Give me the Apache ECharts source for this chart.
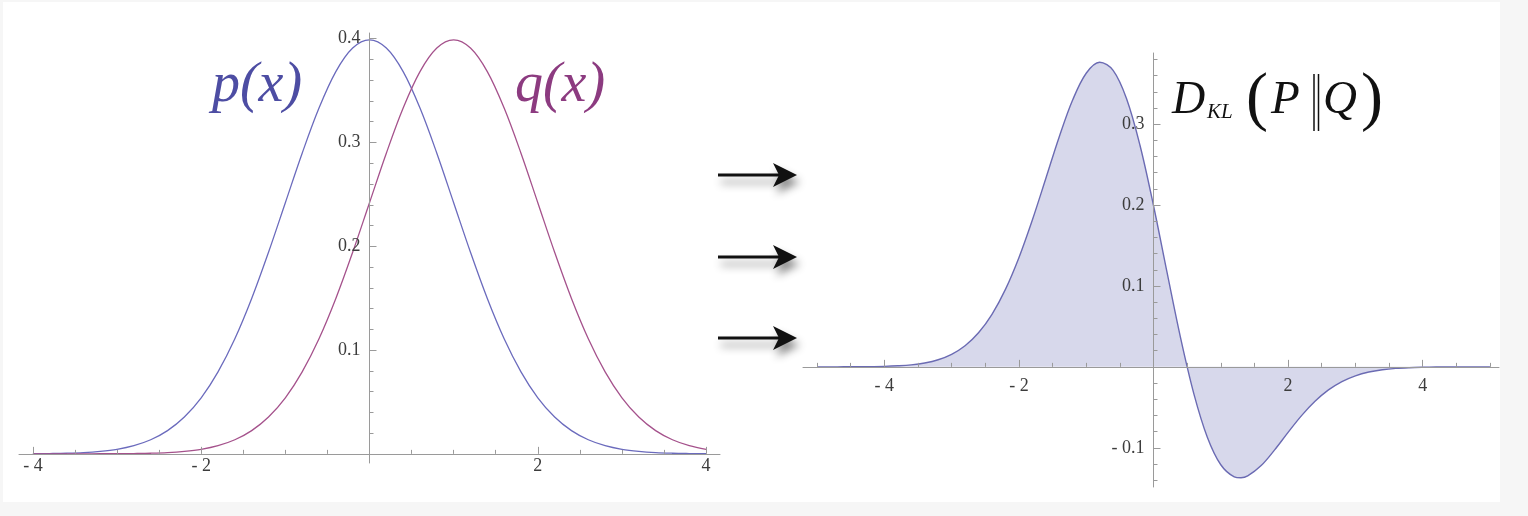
<!DOCTYPE html>
<html>
<head>
<meta charset="utf-8">
<script src="https://cdn.jsdelivr.net/npm/echarts@6/dist/echarts.min.js"></script>
<style>html,body{margin:0;padding:0;background:#f6f6f6}#c{width:1528px;height:516px}</style>
</head>
<body>
<div id="c"></div>
<script>
// ---------- data ----------
const leftXs = [-4.0,-3.8,-3.6,-3.4,-3.2,-3.0,-2.8,-2.6,-2.4,-2.2,-2.0,-1.8,-1.6,-1.4,-1.2,-1.0,-0.8,-0.6,-0.4,-0.2,0.0,
                0.2,0.4,0.6,0.8,1.0,1.2,1.4,1.6,1.8,2.0,2.2,2.4,2.6,2.8,3.0,3.2,3.4,3.6,3.8,4.0];
const pValues = [0.0001,0.0003,0.0006,0.0012,0.0024,0.0044,0.0079,0.0136,0.0224,0.0355,0.0540,0.0790,0.1109,0.1497,0.1942,0.2420,0.2897,0.3332,0.3683,0.3910,0.3989,
                 0.3910,0.3683,0.3332,0.2897,0.2420,0.1942,0.1497,0.1109,0.0790,0.0540,0.0355,0.0224,0.0136,0.0079,0.0044,0.0024,0.0012,0.0006,0.0003,0.0001];
const qValues = [0.0000,0.0000,0.0000,0.0000,0.0001,0.0001,0.0003,0.0006,0.0012,0.0024,0.0044,0.0079,0.0136,0.0224,0.0355,0.0540,0.0790,0.1109,0.1497,0.1942,0.2420,
                 0.2897,0.3332,0.3683,0.3910,0.3989,0.3910,0.3683,0.3332,0.2897,0.2420,0.1942,0.1497,0.1109,0.0790,0.0540,0.0355,0.0224,0.0136,0.0079,0.0044];
const rightXs = [-5.0,-4.8,-4.6,-4.4,-4.2,-4.0,-3.8,-3.6,-3.4,-3.2,-3.0,-2.8,-2.6,-2.4,-2.2,-2.0,-1.8,-1.6,-1.4,-1.2,-1.0,-0.8,-0.6,-0.4,-0.2,0.0,
                 0.2,0.4,0.6,0.8,1.0,1.2,1.3,1.4,1.6,1.8,2.0,2.2,2.4,2.6,2.8,3.0,3.2,3.4,3.6,3.8,4.0,4.2,4.4,4.6,4.8,5.0];
const klValues = [0.0000,0.0000,0.0001,0.0001,0.0003,0.0006,0.0013,0.0025,0.0048,0.0088,0.0155,0.0261,0.0421,0.0649,0.0958,0.1350,0.1816,0.2329,0.2845,0.3301,0.3630,0.3766,0.3665,0.3314,0.2737,0.1995,
                  0.1173,0.0368,-0.0333,-0.0869,-0.1210,-0.1359,-0.1371,-0.1348,-0.1220,-0.1026,-0.0810,-0.0603,-0.0426,-0.0285,-0.0182,-0.0111,-0.0064,-0.0036,-0.0019,-0.0010,-0.0005,-0.0002,-0.0001,0.0000,0.0000,0.0000];

// tick labels
const leftXMajor = [-4,-2,2,4];
const leftXMinor = [-3.5,-3,-2.5,-1.5,-1,-0.5,0.5,1,1.5,2.5,3,3.5];
const leftYMajor = [0.1,0.2,0.3,0.4];
const leftYMinor = [0.02,0.04,0.06,0.08,0.12,0.14,0.16,0.18,0.22,0.24,0.26,0.28,0.32,0.34,0.36,0.38];
const rightXMajor = [-4,-2,2,4];
const rightXMinor = [-5,-4.5,-3.5,-3,-2.5,-1.5,-1,-0.5,0.5,1,1.5,2.5,3,3.5,4.5,5];
const rightYMajor = [-0.1,0.1,0.2,0.3];
const rightYMinor = [-0.14,-0.12,-0.08,-0.06,-0.04,-0.02,0.02,0.04,0.06,0.08,0.12,0.14,0.16,0.18,0.22,0.24,0.26,0.28,0.32,0.34,0.36,0.38];

// ---------- chart ----------
const AX = '#9a9a9a';
const LBL = '#3c3c3c';
const SERIF = '"Liberation Serif", "DejaVu Serif", serif';
const fmt = v => v < 0 ? '- ' + Math.abs(v) : String(v);

const G = [
  { left: 19, top: 33, width: 701, height: 430 },
  { left: 803, top: 53, width: 696, height: 434 }
];
const LX = [-4.165, 4.165], LY = [-0.0088, 0.4055];
const RX = [-5.208, 5.134], RY = [-0.1485, 0.388];

// distance (px) from the low end of an axis to its zero, used to put axes through the origin
const zeroPx = (ext, len) => (0 - ext[0]) / (ext[1] - ext[0]) * len;

function xAx(grid, ext, ticks, len, labels, yExt, fontSize, margin, lineVisible) {
  return {
    type: 'value', gridIndex: grid, min: ext[0], max: ext[1], position: 'bottom', z: 10,
    offset: -zeroPx(yExt, G[grid].height),
    axisLine: { show: true, onZero: false, lineStyle: { color: lineVisible ? AX : 'rgba(0,0,0,0)', width: 1 } },
    axisTick: { show: true, inside: true, length: len, customValues: ticks, lineStyle: { color: AX, width: 1 } },
    axisLabel: labels ? { show: true, customValues: ticks, formatter: fmt, margin: margin, fontFamily: SERIF, fontSize: fontSize, color: LBL } : { show: false },
    splitLine: { show: false }, minorTick: { show: false }
  };
}
function yAx(grid, ext, ticks, len, labels, xExt, fontSize, margin, lineVisible) {
  return {
    type: 'value', gridIndex: grid, min: ext[0], max: ext[1], position: 'left', z: 10,
    offset: -zeroPx(xExt, G[grid].width),
    axisLine: { show: true, onZero: false, lineStyle: { color: lineVisible ? AX : 'rgba(0,0,0,0)', width: 1 } },
    axisTick: { show: true, inside: true, length: len, customValues: ticks, lineStyle: { color: AX, width: 1 } },
    axisLabel: labels ? { show: true, customValues: ticks, formatter: fmt, margin: margin, fontFamily: SERIF, fontSize: fontSize, color: LBL } : { show: false },
    splitLine: { show: false }, minorTick: { show: false }
  };
}

function arrow(y) {
  const sh = { shadowBlur: 8, shadowColor: 'rgba(0,0,0,0.45)', shadowOffsetX: 3, shadowOffsetY: 7 };
  return {
    type: 'group', children: [
      { type: 'line', shape: { x1: 718, y1: y, x2: 782, y2: y }, style: Object.assign({ stroke: '#111', lineWidth: 3 }, sh) },
      { type: 'polygon', shape: { points: [[797, y], [773, y - 12], [779, y], [773, y + 12]] }, style: Object.assign({ fill: '#111' }, sh) }
    ]
  };
}

const chart = echarts.init(document.getElementById('c'), null, { renderer: 'canvas' });
chart.setOption({
  animation: false,
  backgroundColor: '#f6f6f6',
  grid: G.map(g => Object.assign({ outerBoundsMode: 'none', containLabel: false }, g)),
  xAxis: [
    xAx(0, LX, leftXMajor, 7, true, LY, 18, 3, true),
    xAx(0, LX, leftXMinor, 4, false, LY, 18, 3, false),
    xAx(1, RX, rightXMajor, 7, true, RY, 18, 10, true),
    xAx(1, RX, rightXMinor, 4, false, RY, 18, 10, false)
  ],
  yAxis: [
    yAx(0, LY, leftYMajor, 7, true, LX, 18, 9, true),
    yAx(0, LY, leftYMinor, 4, false, LX, 18, 9, false),
    yAx(1, RY, rightYMajor, 7, true, RX, 18, 9, true),
    yAx(1, RY, rightYMinor, 4, false, RX, 18, 9, false)
  ],
  series: [
    { type: 'line', xAxisIndex: 0, yAxisIndex: 0, showSymbol: false, smooth: 0.35, z: 3,
      lineStyle: { color: '#6b6bbd', width: 1.3 }, data: leftXs.map((x, i) => [x, pValues[i]]) },
    { type: 'line', xAxisIndex: 0, yAxisIndex: 0, showSymbol: false, smooth: 0.35, z: 3,
      lineStyle: { color: '#a5528c', width: 1.3 }, data: leftXs.map((x, i) => [x, qValues[i]]) },
    { type: 'line', xAxisIndex: 2, yAxisIndex: 2, showSymbol: false, smooth: 0.35, z: 3,
      lineStyle: { color: '#6b6bb3', width: 1.4 }, areaStyle: { color: '#d7d8eb', opacity: 1 },
      data: rightXs.map((x, i) => [x, klValues[i]]) }
  ],
  graphic: [
    { type: 'rect', z: -100, silent: true, shape: { x: 3, y: 2, width: 1497, height: 500 }, style: { fill: '#ffffff' } },
    { type: 'text', x: 257, y: 86, style: { text: 'p(x)', font: 'italic 56px ' + SERIF, fill: '#4d4da3', align: 'center', verticalAlign: 'middle' } },
    { type: 'text', x: 560, y: 86, style: { text: 'q(x)', font: 'italic 56px ' + SERIF, fill: '#8c3b80', align: 'center', verticalAlign: 'middle' } },
    { type: 'text', x: 1172, y: 101, style: { text: 'D', font: 'italic 46px ' + SERIF, fill: '#111', align: 'left', verticalAlign: 'middle' } },
    { type: 'text', x: 1207, y: 112, style: { text: 'KL', font: 'italic 21px ' + SERIF, fill: '#111', align: 'left', verticalAlign: 'middle' } },
    { type: 'text', x: 1257, y: 101, style: { text: '(', font: '66px ' + SERIF, fill: '#111', align: 'center', verticalAlign: 'middle' } },
    { type: 'text', x: 1271, y: 101, style: { text: 'P', font: 'italic 47px ' + SERIF, fill: '#111', align: 'left', verticalAlign: 'middle' } },
    { type: 'line', shape: { x1: 1314, y1: 74, x2: 1314, y2: 131 }, style: { stroke: '#111', lineWidth: 1.5 } },
    { type: 'line', shape: { x1: 1318.5, y1: 74, x2: 1318.5, y2: 131 }, style: { stroke: '#111', lineWidth: 1.5 } },
    { type: 'text', x: 1323, y: 101, style: { text: 'Q', font: 'italic 47px ' + SERIF, fill: '#111', align: 'left', verticalAlign: 'middle' } },
    { type: 'text', x: 1372, y: 101, style: { text: ')', font: '66px ' + SERIF, fill: '#111', align: 'center', verticalAlign: 'middle' } },
    arrow(175), arrow(257), arrow(338)
  ]
});
</script>
</body>
</html>
